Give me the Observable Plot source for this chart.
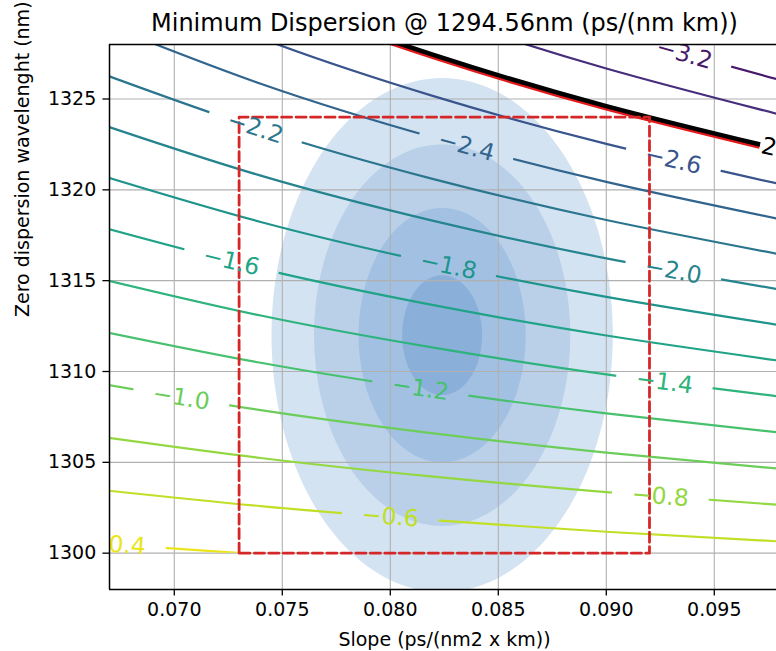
<!DOCTYPE html>
<html><head><meta charset="utf-8">
<script src="https://cdn.jsdelivr.net/npm/d3@7"></script>
<script src="https://cdn.jsdelivr.net/npm/@observablehq/plot@0.6"></script>
<style>
html,body{margin:0;padding:0;background:#fff;overflow:hidden}
#chart svg{display:block}
</style>
</head><body><div id="chart"></div>
<script>
// ---- texts ----
const title = "Minimum Dispersion @ 1294.56nm (ps/(nm km))";
const xLabel = "Slope (ps/(nm2 x km))";
const yLabel = "Zero dispersion wavelenght (nm)";
const xTicks = [0.070, 0.075, 0.080, 0.085, 0.090, 0.095];
const yTicks = [1300, 1305, 1310, 1315, 1320, 1325];

// ---- contour lines: zero-dispersion wavelength (nm) of each level at sampled slopes ----
const slopeSamples = [0.066, 0.074, 0.082, 0.090, 0.099];
const levels = [-3.2, -3.0, -2.8, -2.6, -2.4, -2.2, -2.0, -1.8, -1.6, -1.4, -1.2, -1.0, -0.8, -0.6, -0.4];
const levelLambda0 = [
  [1340.53, 1335.79, 1331.93, 1328.74, 1325.74],
  [1337.80, 1333.32, 1329.69, 1326.68, 1323.85],
  [1335.04, 1330.84, 1327.43, 1324.61, 1321.96],
  [1332.27, 1328.35, 1325.16, 1322.53, 1320.06],
  [1329.48, 1325.84, 1322.88, 1320.44, 1318.15],
  [1326.68, 1323.32, 1320.59, 1318.34, 1316.23],
  [1323.85, 1320.78, 1318.29, 1316.23, 1314.31],
  [1321.01, 1318.23, 1315.97, 1314.11, 1312.37],
  [1318.15, 1315.66, 1313.65, 1311.98, 1310.43],
  [1315.27, 1313.08, 1311.31, 1309.84, 1308.48],
  [1312.37, 1310.48, 1308.95, 1307.69, 1306.51],
  [1309.45, 1307.87, 1306.59, 1305.53, 1304.54],
  [1306.51, 1305.24, 1304.21, 1303.36, 1302.57],
  [1303.56, 1302.59, 1301.82, 1301.18, 1300.58],
  [1300.58, 1299.93, 1299.41, 1298.98, 1298.58]
];
const limitLevel = -2.8;
const gridLambda0Min = 1300;     // contour grid starts at 1300 nm
const colorDomain = [-3.40, -0.30];

// ---- inline contour labels ----
const labelLevels = [-3.2, -2.8, -2.6, -2.4, -2.2, -2.0, -1.8, -1.6, -1.4, -1.2, -1.0, -0.8, -0.6, -0.4];
const labelSlope = [0.09361, 0.09759, 0.0931, 0.08352, 0.07375, 0.0931, 0.08269, 0.07264, 0.09269, 0.08139, 0.07032, 0.0925, 0.080, 0.06736];
const labelLambda0 = [1327.47, 1322.34, 1321.63, 1322.39, 1323.41, 1315.53, 1315.80, 1316.05, 1309.41, 1309.06, 1308.55, 1303.12, 1302.00, 1300.46];
const labelAngle = [15.9, 13.1, 13.3, 15.2, 17.7, 10.5, 11.9, 13.6, 7.5, 8.4, 9.3, 4.4, 4.4, 4.2];

// ---- distribution ellipses (center and semi-axes) ----
const ellipseCenterSlope = 0.0824;
const ellipseCenterLambda0 = 1312;
const ellipseSlopeRadius = [0.0079, 0.00593, 0.00387, 0.00185];
const ellipseLambda0Radius = [14.15, 10.5, 7.0, 3.3];
const ellipseFills = ["#d3e3f1", "#b9d0e8", "#a2c1e2", "#8ab0da"];

// ---- specification box ----
const specSlope = [0.073, 0.092];
const specLambda0 = [1300, 1324];

// ---- build tables ----
const contourRows = levels.flatMap((lv, i) => lv === limitLevel ? [] :
  slopeSamples.map((s, j) => ({level: lv, slope: s, lambda0: levelLambda0[i][j]})));
const limitRow = slopeSamples.map((s, j) => ({slope: s, lambda0: levelLambda0[levels.indexOf(limitLevel)][j]}));
const labelRows = labelLevels.map((lv, i) => ({level: lv, slope: labelSlope[i], lambda0: labelLambda0[i], angle: labelAngle[i],
  text: "\u2212" + Math.abs(lv).toFixed(1)}));
const ellipseRows = ellipseSlopeRadius.map((rx, i) => d3.range(0, 360, 2).map(a => ({
  slope: ellipseCenterSlope + rx * Math.cos(a * Math.PI / 180),
  lambda0: ellipseCenterLambda0 + ellipseLambda0Radius[i] * Math.sin(a * Math.PI / 180)
})));
const specBox = [
  {slope: specSlope[0], lambda0: specLambda0[0]},
  {slope: specSlope[0], lambda0: specLambda0[1]},
  {slope: specSlope[1], lambda0: specLambda0[1]},
  {slope: specSlope[1], lambda0: specLambda0[0]},
  {slope: specSlope[0], lambda0: specLambda0[0]}
];

const xDomain = [0.067, 0.09788];
const yDomain = [1298, 1328];
const LINE_TAG = 0.9991;   // marker opacity used to find contour-line groups
const LABEL_TAG = 0.9992;  // marker opacity used to find contour-label groups
const marginTop = 44, marginBottom = 62, height = 651;

const svg = Plot.plot({
  width: 776, height,
  marginTop, marginLeft: 109, marginBottom, marginRight: 0,
  style: {fontFamily: "DejaVu Sans", fontSize: "19px", background: "white", color: "black"},
  x: {domain: xDomain},
  y: {domain: yDomain},
  color: {type: "linear", scheme: "viridis", domain: colorDomain},
  marks: [
    ...ellipseRows.map((rows, i) => Plot.line(rows, {x: "slope", y: "lambda0", fill: ellipseFills[i], stroke: "none", curve: "linear-closed", clip: true})),
    Plot.ruleX(xTicks, {stroke: "#b0b0b0", strokeWidth: 1.1}),
    Plot.ruleY(yTicks, {stroke: "#b0b0b0", strokeWidth: 1.1}),
    Plot.line(contourRows, {x: "slope", y: "lambda0", z: "level", stroke: "level", strokeWidth: 2.2, strokeOpacity: LINE_TAG, curve: "natural", clip: true}),
    Plot.line(limitRow, {x: "slope", y: "lambda0", stroke: "#e31a1c", strokeWidth: 4, strokeOpacity: LINE_TAG, dy: 2.5, curve: "natural", clip: true}),
    Plot.line(limitRow, {x: "slope", y: "lambda0", stroke: "black", strokeWidth: 4.5, strokeOpacity: LINE_TAG, curve: "natural", clip: true}),
    Plot.line(specBox, {x: "slope", y: "lambda0", stroke: "#d62728", strokeWidth: 2.8, strokeDasharray: "10,4.5", clip: true}),
    Plot.text(labelRows.filter(d => d.level !== limitLevel), {x: "slope", y: "lambda0", text: "text", rotate: "angle", fill: "level", fillOpacity: LABEL_TAG, fontSize: 23.5, clip: true}),
    Plot.text(labelRows.filter(d => d.level === limitLevel), {x: "slope", y: "lambda0", text: "text", rotate: "angle", fill: "black", fillOpacity: LABEL_TAG, fontSize: 23.5, clip: true}),
    Plot.ruleX([xDomain[0]], {stroke: "black", strokeWidth: 1.5}),
    Plot.ruleY(yDomain, {stroke: "black", strokeWidth: 1.5}),
    Plot.axisX(xTicks, {anchor: "bottom", tickSize: 6.6, tickPadding: 6.6, tickFormat: d3.format(".3f"), fontSize: 19, label: null, strokeWidth: 1.3}),
    Plot.axisY(yTicks, {anchor: "left", tickSize: 6.6, tickPadding: 6.6, tickFormat: d3.format("d"), fontSize: 19, label: null, strokeWidth: 1.3}),
    Plot.text([title], {text: d => d, frameAnchor: "top", dx: 1.5, dy: -21.5, fontSize: 24, lineAnchor: "middle", fill: "black"}),
    Plot.text([xLabel], {text: d => d, frameAnchor: "bottom", dx: 1.5, dy: 50, fontSize: 19, lineAnchor: "middle", fill: "black"}),
    Plot.text([yLabel], {text: d => d, frameAnchor: "left", dx: -87, rotate: -90, fontSize: 19, lineAnchor: "middle", fill: "black"})
  ]
});
document.getElementById("chart").appendChild(svg);

// contour grid lower edge (in pixels) and inline label gaps (even-odd clip path)
try {
  const ns = "http://www.w3.org/2000/svg";
  let yCut;
  try { yCut = svg.scale("y").apply(gridLambda0Min); } catch (e) { yCut = undefined; }
  if (!isFinite(yCut)) {
    const h = height - marginTop - marginBottom;
    yCut = marginTop + h * (yDomain[1] - gridLambda0Min) / (yDomain[1] - yDomain[0]);
  }
  const defs = document.createElementNS(ns, "defs");
  const clip = document.createElementNS(ns, "clipPath");
  clip.setAttribute("id", "clabel-gaps");
  clip.setAttribute("clipPathUnits", "userSpaceOnUse");
  const path = document.createElementNS(ns, "path");
  let d = `M-100,-100H1000V${yCut.toFixed(2)}H-100Z`;
  const pad = 20;
  const svgM = svg.getScreenCTM();
  svg.querySelectorAll("g").forEach(g => {
    if (Math.abs(+g.getAttribute("fill-opacity") - LABEL_TAG) > 1e-6) return;
    g.querySelectorAll("text").forEach(t => {
      const bb = t.getBBox();
      const tm = t.getScreenCTM();
      if (!tm || !svgM || !isFinite(bb.width) || bb.width <= 0) return;
      const m = svgM.inverse().multiply(tm);
      const leftPad = t.textContent === "\u22122.8" ? -18 : pad;
      const x0 = bb.x - leftPad, x1 = bb.x + bb.width + pad;
      const y0 = bb.y + 3, y1 = bb.y + bb.height - 3;
      const pts = [[x0, y0], [x1, y0], [x1, y1], [x0, y1]]
        .map(([x, y]) => [m.a * x + m.c * y + m.e, m.b * x + m.d * y + m.f]);
      if (pts.some(p => !isFinite(p[0]) || !isFinite(p[1]))) return;
      d += "M" + pts.map(p => p[0].toFixed(2) + "," + p[1].toFixed(2)).join("L") + "Z";
    });
  });
  path.setAttribute("d", d);
  path.setAttribute("clip-rule", "evenodd");
  clip.appendChild(path);
  defs.appendChild(clip);
  svg.appendChild(defs);
  svg.querySelectorAll("g").forEach(g => {
    if (Math.abs(+g.getAttribute("stroke-opacity") - LINE_TAG) > 1e-6) return;
    const w = document.createElementNS(ns, "g");
    w.setAttribute("clip-path", "url(#clabel-gaps)");
    g.parentNode.insertBefore(w, g);
    w.appendChild(g);
  });
} catch (e) { console.error(e); }
</script>
</body></html>
